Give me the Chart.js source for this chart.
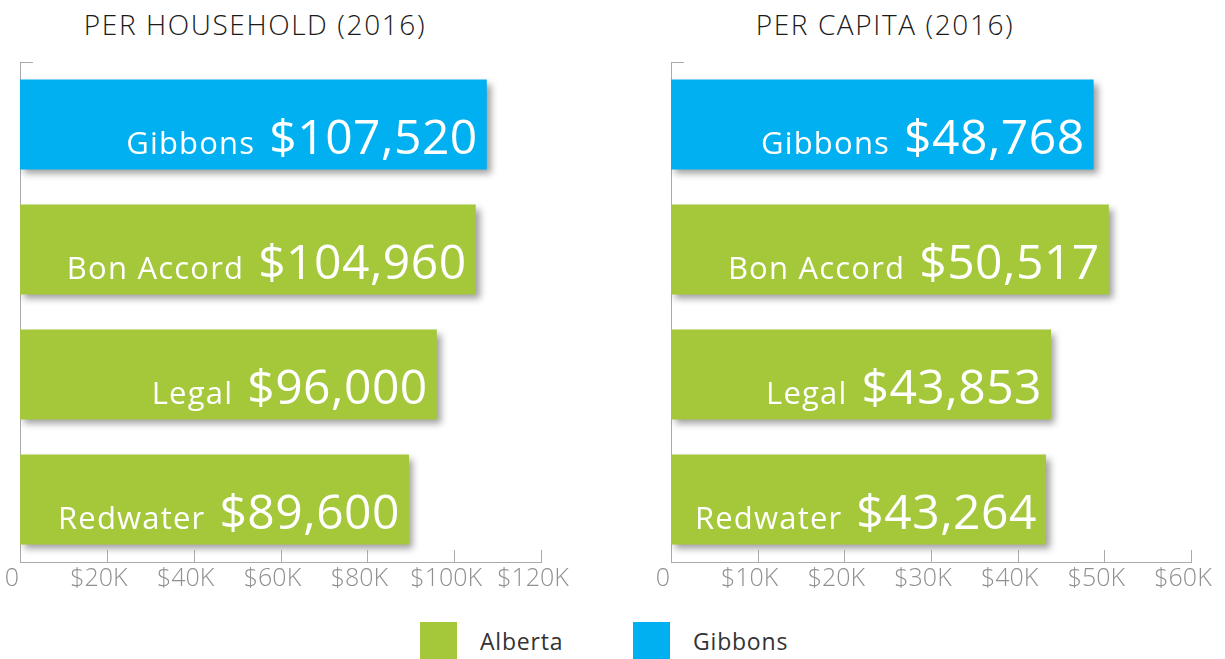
<!DOCTYPE html>
<html>
<head>
<meta charset="utf-8">
<script src="https://cdn.jsdelivr.net/npm/chart.js@4.4.1/dist/chart.umd.min.js"></script>
<style>
body { margin: 0; background: #fff; }
#wrap { position: relative; width: 1225px; height: 659px; overflow: hidden; font-family: 'Open Sans', sans-serif; }
.title { position: absolute; top: 5px; font-size: 28px; font-weight: 300; color: #1a1a1a; transform: translateX(-50%); white-space: nowrap; letter-spacing: 1.6px; }
canvas { position: absolute; top: 0; }
#legend { position: absolute; top: 622px; left: 420px; display: flex; align-items: center; }
.item { display: flex; align-items: center; font-size: 23px; color: #333; letter-spacing: 0.8px; }
.swatch { width: 37px; height: 37px; margin-right: 23px; }
</style>
</head>
<body>
<div id="wrap">
  <div class="title" style="left:255px">PER HOUSEHOLD (2016)</div>
  <div class="title" style="left:885px">PER CAPITA (2016)</div>
  <canvas id="household" width="612" height="600" style="left:0"></canvas>
  <canvas id="capita" width="613" height="600" style="left:612px"></canvas>
  <div id="legend"></div>
</div>
<script>
const categories = ['Gibbons', 'Bon Accord', 'Legal', 'Redwater'];
const householdValues = [107520, 104960, 96000, 89600];
const capitaValues = [48768, 50517, 43853, 43264];
const householdTicks = [0, 20000, 40000, 60000, 80000, 100000, 120000];
const capitaTicks = [0, 10000, 20000, 30000, 40000, 50000, 60000];
const legendLabels = ['Alberta', 'Gibbons'];

const GREEN = '#a5c83b';
const BLUE = '#00b0f0';
const barColors = categories.map(c => c === 'Gibbons' ? BLUE : GREEN);
const axisColor = '#aaaaaa';

const fmtTick = v => v === 0 ? '0' : '$' + (v / 1000) + 'K';

// shadows, in-bar labels and the little upward ticks
const barDecor = {
  id: 'barDecor',
  beforeDatasetsDraw(chart) {
    const ctx = chart.ctx;
    ctx.save();
    ctx.shadowColor = 'rgba(0,0,0,0.38)';
    ctx.shadowBlur = 7;
    ctx.shadowOffsetX = 4;
    ctx.shadowOffsetY = 4;
  },
  afterDatasetsDraw(chart) {
    const ctx = chart.ctx;
    ctx.restore();
    const meta = chart.getDatasetMeta(0);
    ctx.save();
    ctx.fillStyle = '#fff';
    ctx.textAlign = 'right';
    ctx.textBaseline = 'alphabetic';
    meta.data.forEach((bar, i) => {
      const v = chart.data.datasets[0].data[i];
      const p = bar.getProps(['x', 'y', 'height'], true);
      const base = p.y + p.height * 0.33;
      const txt = '$' + v.toLocaleString('en-US');
      ctx.letterSpacing = '0.5px';
      ctx.font = '48px "Open Sans"';
      ctx.fillText(txt, p.x - 9, base);
      const w = ctx.measureText(txt).width;
      ctx.letterSpacing = '1.2px';
      ctx.font = '31px "Open Sans"';
      ctx.fillText(chart.data.labels[i], p.x - 9 - w - 14, base);
    });
    ctx.restore();
  },
  afterDraw(chart) {
    const ctx = chart.ctx;
    const xs = chart.scales.x, ys = chart.scales.y;
    ctx.save();
    ctx.strokeStyle = axisColor;
    ctx.lineWidth = 1;
    ctx.beginPath();
    xs.ticks.forEach((t, i) => {
      const px = Math.round(xs.getPixelForTick(i)) + 0.5;
      ctx.moveTo(px, ys.bottom);
      ctx.lineTo(px, ys.bottom - 12);
    });
    ctx.moveTo(xs.left, Math.round(ys.top) + 0.5);
    ctx.lineTo(xs.left + 13, Math.round(ys.top) + 0.5);
    ctx.stroke();
    ctx.restore();
  }
};

function makeChart(id, values, ticks, padLeft, padRight) {
  return new Chart(document.getElementById(id), {
    type: 'bar',
    data: {
      labels: categories,
      datasets: [{
        data: values,
        backgroundColor: barColors,
        borderWidth: 0,
        barPercentage: 0.72,
        categoryPercentage: 1
      }]
    },
    options: {
      indexAxis: 'y',
      responsive: false,
      animation: false,
      layout: { padding: { left: padLeft, right: padRight, top: 62, bottom: 0 } },
      plugins: { legend: { display: false }, title: { display: false }, tooltip: { enabled: false } },
      scales: {
        x: {
          min: ticks[0],
          max: ticks[ticks.length - 1],
          afterBuildTicks: s => { s.ticks = ticks.map(v => ({ value: v })); },
          afterFit: s => { s.height = 38; s.paddingLeft = 0; s.paddingRight = 0; },
          grid: { display: false, drawTicks: false },
          border: { display: true, color: axisColor, width: 1 },
          ticks: {
            callback: v => fmtTick(v),
            color: '#909090',
            font: { family: 'Open Sans', size: 25, weight: 300 },
            padding: 2,
            labelOffset: -8,
            maxRotation: 0,
            autoSkip: false
          }
        },
        y: {
          afterFit: s => { s.width = 0; },
          grid: { display: false, drawTicks: false },
          border: { display: true, color: axisColor, width: 1 },
          ticks: { display: false }
        }
      }
    },
    plugins: [barDecor]
  });
}

makeChart('household', householdValues, householdTicks, 20, 71);
makeChart('capita', capitaValues, capitaTicks, 59, 34);

const legend = document.getElementById('legend');
[GREEN, BLUE].forEach((c, i) => {
  const item = document.createElement('div');
  item.className = 'item';
  item.style.marginRight = i === 0 ? '63px' : '0';
  const sw = document.createElement('div');
  sw.className = 'swatch';
  sw.style.background = c;
  const lab = document.createElement('span');
  lab.textContent = legendLabels[i];
  item.appendChild(sw);
  item.appendChild(lab);
  legend.appendChild(item);
});
// line the Gibbons swatch up with the reference position
const items = legend.children;
items[0].style.width = (633 - 420) + 'px';
items[0].style.marginRight = '0';
</script>
</body>
</html>
